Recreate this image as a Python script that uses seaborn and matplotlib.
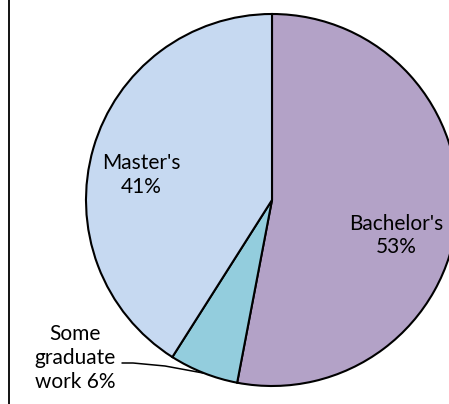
import matplotlib
matplotlib.use("Agg")
import matplotlib.pyplot as plt
import seaborn as sns

# --------------------
# Data
# --------------------
degrees = ["Bachelor's", "Some graduate work", "Master's"]
shares = [53, 6, 41]
slice_colors = ["#B3A2C7", "#93CDDD", "#C6D9F1"]

# --------------------
# Style
# --------------------
sns.set_style("white")
plt.rcParams["font.family"] = ["Lato", "DejaVu Sans"]
plt.rcParams["text.color"] = "black"

W, H = 449, 404
fig = plt.figure(figsize=(W / 100, H / 100), dpi=100)
ax = fig.add_axes([0, 0, 1, 1])

# pie centre / radius in pixel units (y measured from bottom)
cx, cy, r = 272, H - 200, 186

ax.pie(
    shares,
    colors=slice_colors,
    startangle=90,
    counterclock=False,
    center=(cx, cy),
    radius=r,
    wedgeprops={"edgecolor": "black", "linewidth": 1.5},
    frame=True,
)
ax.set_xlim(0, W)
ax.set_ylim(0, H)
ax.set_aspect("equal")
ax.axis("off")

# labels
fs = 15
ax.text(396, H - 235.5, f"{degrees[0]}\n{shares[0]}%", ha="center", va="center",
        fontsize=fs, linespacing=1.22, color="black")
ax.text(141, H - 175, f"{degrees[2]}\n{shares[2]}%", ha="center", va="center",
        fontsize=fs, linespacing=1.22, color="black")
ax.text(75, H - 358, f"Some\ngraduate\nwork {shares[1]}%", ha="center", va="center",
        fontsize=fs, linespacing=1.22, color="black")

# leader line for the small slice
ax.plot([122, 133, 165, 203], [H - 363, H - 363, H - 366, H - 373],
        color="black", linewidth=1.1)

# chart-area border remnant on the left
ax.plot([8.5, 8.5], [0, H], color="black", linewidth=1.3)

fig.savefig("out.png", dpi=100)
